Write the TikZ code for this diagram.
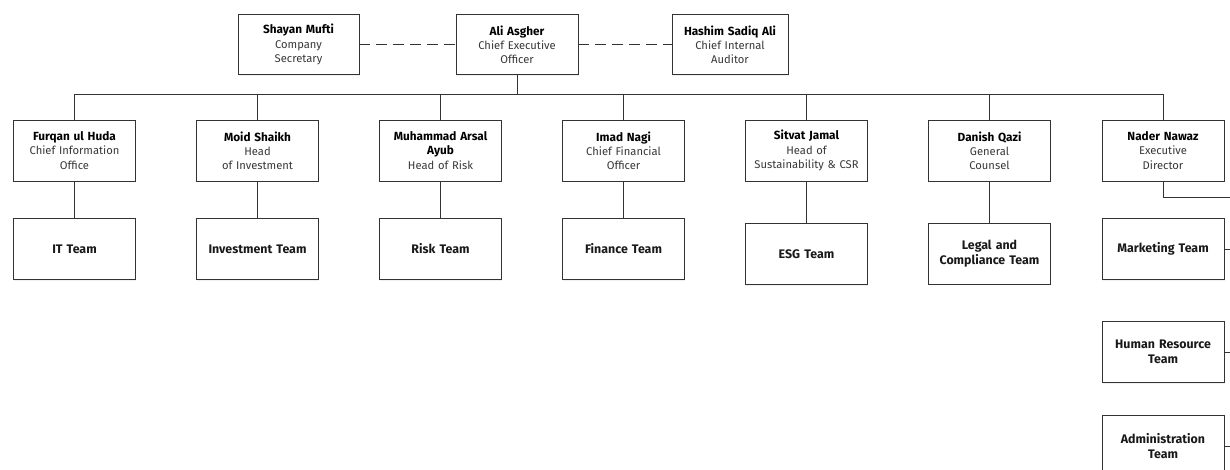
\documentclass[tikz,border=0pt]{standalone}
\usepackage{fontspec}
\setmainfont{Fira Sans}
\usetikzlibrary{
    positioning,
    shadows
    }

\begin{document}
\begin{tikzpicture}[x=1pt, y=-1pt]
\tikzset{member/.style =
        {
            rectangle,
            draw=black!80,
            line width=0.9pt,
            fill=white,
            minimum width=122pt,
            minimum height=61pt,
            text width=118pt,
            inner sep=1pt,
            align=center,
            font=\fontsize{11.2}{14.2}\selectfont,
            text=black!78,
            drop shadow={shadow xshift=0.8pt, shadow yshift=-1.2pt, opacity=0.12}
        }
}

\tikzset{team/.style =
        {
            member,
            text=black!90,
            font=\bfseries\fontsize{12.4}{15}\selectfont
        }
}

\tikzset{link/.style =
        {
            draw=black!80,
            line width=0.9pt
        }
}

\tikzset{advisory/.style =
        {
            link,
            dash pattern=on 11pt off 6pt
        }
}

\newcommand{\who}[2]{{\color{black}\bfseries\fontsize{11.8}{14.2}\selectfont #1\par}#2}

		\useasboundingbox (0,0) rectangle (1230,470);
		\clip (0,0) rectangle (1230,470);

		% board level
		\node[member, minimum width=121pt, minimum height=60pt] at (298.5,44.5) (shayan) {\who{Shayan Mufti}{Company\\Secretary}};
		\node[member, minimum height=60pt] at (517,44.5) (ali) {\who{Ali Asgher}{Chief Executive\\Officer}};
		\node[member, minimum width=116pt, minimum height=60pt, text width=112pt] at (730,44.5) (hashim) {\who{Hashim Sadiq Ali}{Chief Internal\\Auditor}};

		\draw[advisory] (shayan) -- (ali);
		\draw[advisory] (ali) -- (hashim);

		% heads
		\foreach \pid / \px / \pname / \prole in
			{furqan/74.5/{Furqan ul Huda}/{Chief Information\\Office},
				moid/257.5/{Moid Shaikh}/{Head\\of Investment},
				arsal/440.5/{Muhammad Arsal\\Ayub}/{Head of Risk},
				imad/623.5/{Imad Nagi}/{Chief Financial\\Officer},
				sitvat/806.5/{Sitvat Jamal}/{Head of\\Sustainability \& CSR},
				danish/989.5/{Danish Qazi}/{General\\Counsel},
				nader/1163/{Nader Nawaz}/{Executive\\Director}}
		\node[member] at (\px,150.5) (\pid) {\who{\pname}{\prole}};

		% teams
		\foreach \unit / \ux / \uy / \lab in
			{it/74.5/249/{IT Team},
				investment/257.5/249/{Investment Team},
				risk/440.5/249/{Risk Team},
				finance/623.5/249/{Finance Team},
				esg/806.5/254/{ESG Team},
				legal/989.5/253.5/{Legal and\\Compliance Team},
				marketing/1163/249/{Marketing Team},
				hr/1163/352/{Human Resource\\Team},
				admin/1163/446/{Administration\\Team}}
		\node[team] at (\ux,\uy) (\unit) {\lab};

		\foreach \pid in {furqan, moid, arsal, imad, sitvat, danish, nader}
			{
				\draw[link] (ali.south) -- ++(0,19.5) -| (\pid.north);
			}

		\foreach \pid / \unit in
			{furqan/it,
				moid/investment,
				arsal/risk,
				imad/finance,
				sitvat/esg,
				danish/legal}
			{
				\draw[link] (\pid.south) -- (\unit.north);
			}

		% executive director's spine, runs off the page
		\coordinate (spine) at (1240,197);
		\coordinate (spine-end) at (1240,480);
		\draw[link] (nader.south) |- (spine) -- (spine-end);
		\foreach \unit in {marketing, hr, admin}
			\draw[link] (\unit.east) -- (\unit.east -| spine);

	\end{tikzpicture}
\end{document}
